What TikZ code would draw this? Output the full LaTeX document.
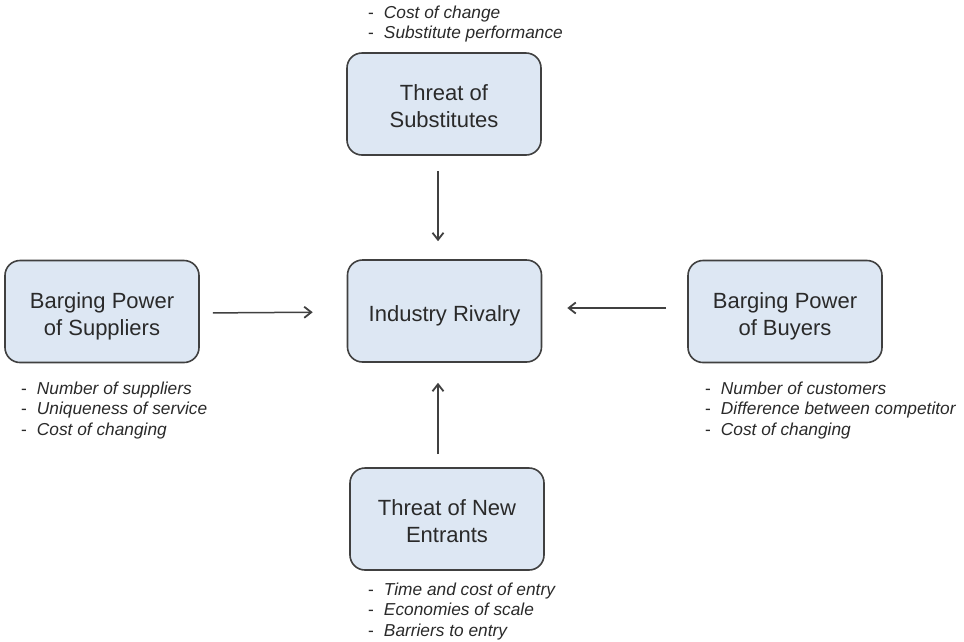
\documentclass[tikz,border=0pt]{standalone}
\usepackage{fontspec}
\setmainfont{Liberation Sans}
\usetikzlibrary{arrows.meta}
\definecolor{boxfill}{HTML}{DDE7F3}
\definecolor{boxline}{HTML}{404040}
\definecolor{ink}{HTML}{2A2A2A}
% centred force title, lines set on a fixed pitch and dropped a little
\newcommand{\forcetext}[1]{\raisebox{-4.6pt}[\height][\depth]{\begin{tabular}{@{}c@{}}#1\end{tabular}}}
% dashed list of factors
\newcommand{\factorlist}[1]{\begin{tabular}[t]{@{}l@{\hspace{10pt}}l@{}}#1\end{tabular}}
\newcommand{\fitem}[1]{-&\textit{#1}}
\begin{document}
\begin{tikzpicture}[x=1pt,y=-1pt,
  force/.style={draw=boxline, line width=1.6pt, fill=boxfill,
    rounded corners=15pt, minimum width=194pt, minimum height=102pt,
    align=center, text=ink, inner sep=0pt,
    font=\fontsize{22}{27}\selectfont},
  factors/.style={anchor=base west, inner sep=0pt, text=ink,
    font=\fontsize{17.3}{20.5}\selectfont},
  push/.style={draw=boxline, line width=1.5pt,
    -{Straight Barb[length=7pt,width=11pt,line width=1.8pt]}}]
  \useasboundingbox[fill=white] (0,0) rectangle (964,641);

  % the five forces
  \node[force] (subs)   at (444,104)   {\forcetext{Threat of\\Substitutes}};
  \node[force] (rival)  at (444.5,311) {\forcetext{Industry Rivalry}};
  \node[force] (supp)   at (102,311.5) {\forcetext{Barging Power\\of Suppliers}};
  \node[force] (buy)    at (785,311.5) {\forcetext{Barging Power\\of Buyers}};
  \node[force] (entr)   at (447,519)   {\forcetext{Threat of New\\Entrants}};

  % factors behind each force
  \node[factors] (subsf) at (368,18)  {\factorlist{\fitem{Cost of change}\\ \fitem{Substitute performance}}};
  \node[factors] (suppf) at (21,394)  {\factorlist{\fitem{Number of suppliers}\\ \fitem{Uniqueness of service}\\ \fitem{Cost of changing}}};
  \node[factors] (buyf)  at (705,394) {\factorlist{\fitem{Number of customers}\\ \fitem{Difference between competitor}\\ \fitem{Cost of changing}}};
  \node[factors] (entrf) at (368,595) {\factorlist{\fitem{Time and cost of entry}\\ \fitem{Economies of scale}\\ \fitem{Barriers to entry}}};

  % pressure on the rivalry
  \draw[push, shorten <=15pt, shorten >=18pt]
    ([xshift=-6pt]subs.south) -- ([xshift=-6.5pt]rival.north);
  \draw[push, shorten <=13pt, shorten >=20pt]
    ([xshift=-9pt]entr.north) -- ([xshift=-6.5pt]rival.south);
  \draw[push, shorten <=13pt, shorten >=34pt]
    ([yshift=-1.5pt]supp.east) -- ([yshift=-1pt]rival.west);
  \draw[push, shorten <=21pt, shorten >=25pt]
    ([yshift=3.5pt]buy.west) -- ([yshift=3pt]rival.east);
\end{tikzpicture}
\end{document}
